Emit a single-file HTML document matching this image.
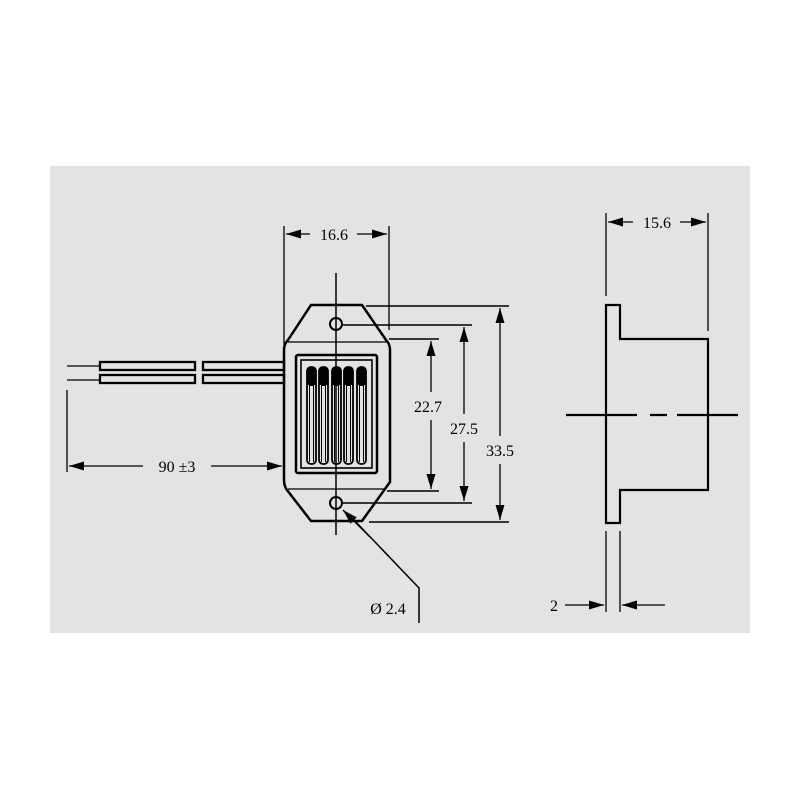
<!DOCTYPE html>
<html><head><meta charset="utf-8"><style>
html,body{margin:0;padding:0;background:#fff;}
svg{display:block;}
text{font-family:"Liberation Serif",serif;font-size:16px;fill:#000;}
</style></head><body>
<svg width="800" height="800" viewBox="0 0 800 800" xmlns="http://www.w3.org/2000/svg">
<defs>
<marker id="a" viewBox="0 0 10 6" refX="10" refY="3" markerWidth="20" markerHeight="9" markerUnits="userSpaceOnUse" orient="auto-start-reverse"><path d="M0,0 L10,3 L0,6 z" fill="#000"/></marker>
</defs>
<rect x="50" y="166" width="700" height="467" fill="#e3e3e3"/>
<g stroke="#000" fill="none">
<path d="M311,305 L362,305 L386,340 Q390,344 390,350 L390,482 L362,521 L311,521 L287,490 Q284,486 284,480 L284,350 Q284,344 288,340 Z" stroke-width="2.5"/>
<line x1="288" y1="342" x2="386" y2="342" stroke-width="1.3"/>
<line x1="288" y1="489" x2="386" y2="489" stroke-width="1.3"/>
<rect x="296" y="355" width="81" height="118" rx="2" stroke-width="2.5"/>
<rect x="301" y="360" width="71" height="108" stroke-width="1.6"/>
<g stroke-width="1.8">
<rect x="307" y="367" width="9" height="97" rx="4"/>
<rect x="319" y="367" width="9" height="97" rx="4"/>
<rect x="332" y="367" width="9" height="97" rx="4"/>
<rect x="344" y="367" width="9" height="97" rx="4"/>
<rect x="357" y="367" width="9" height="97" rx="4"/>
</g>
<g fill="#000" stroke="none">
<path d="M307,385 L307,371 Q307,367 311.5,367 Q316,367 316,371 L316,385 L314,385 L314,462 L309,462 L309,385 Z"/>
<path d="M319,385 L319,371 Q319,367 323.5,367 Q328,367 328,371 L328,385 L326,385 L326,462 L321,462 L321,385 Z"/>
<path d="M332,385 L332,371 Q332,367 336.5,367 Q341,367 341,371 L341,385 L339,385 L339,462 L334,462 L334,385 Z"/>
<path d="M344,385 L344,371 Q344,367 348.5,367 Q353,367 353,371 L353,385 L351,385 L351,462 L346,462 L346,385 Z"/>
<path d="M357,385 L357,371 Q357,367 361.5,367 Q366,367 366,371 L366,385 L364,385 L364,462 L359,462 L359,385 Z"/>
</g>
<g fill="#e3e3e3" stroke="none">
<rect x="310" y="386" width="3" height="76"/><rect x="322" y="386" width="3" height="76"/><rect x="335" y="386" width="3" height="76"/><rect x="347" y="386" width="3" height="76"/><rect x="360" y="386" width="3" height="76"/>
</g>
<circle cx="336" cy="324" r="6" stroke-width="2"/>
<circle cx="336" cy="503" r="6" stroke-width="2"/>
<line x1="336" y1="273" x2="336" y2="535" stroke-width="1.5"/>
<line x1="284" y1="226" x2="284" y2="345" stroke-width="1.3"/>
<line x1="389" y1="226" x2="389" y2="330" stroke-width="1.3"/>
<line x1="310" y1="234" x2="286" y2="234" stroke-width="1.3" marker-end="url(#a)"/>
<line x1="357" y1="234" x2="387" y2="234" stroke-width="1.3" marker-end="url(#a)"/>
<line x1="366" y1="306" x2="509" y2="306" stroke-width="1.4"/>
<line x1="343" y1="325" x2="472" y2="325" stroke-width="1.4"/>
<line x1="389" y1="339" x2="439" y2="339" stroke-width="1.4"/>
<line x1="387" y1="491" x2="439" y2="491" stroke-width="1.4"/>
<line x1="343" y1="503" x2="472" y2="503" stroke-width="1.4"/>
<line x1="369" y1="522" x2="509" y2="522" stroke-width="1.4"/>
<line x1="431" y1="392" x2="431" y2="341" stroke-width="1.3" marker-end="url(#a)"/>
<line x1="431" y1="420" x2="431" y2="489" stroke-width="1.3" marker-end="url(#a)"/>
<line x1="464" y1="414" x2="464" y2="327" stroke-width="1.3" marker-end="url(#a)"/>
<line x1="464" y1="442" x2="464" y2="501" stroke-width="1.3" marker-end="url(#a)"/>
<line x1="500" y1="436" x2="500" y2="308" stroke-width="1.3" marker-end="url(#a)"/>
<line x1="500" y1="464" x2="500" y2="520" stroke-width="1.3" marker-end="url(#a)"/>
<polyline points="419,623 419,588 354,520" stroke-width="1.5"/>
<line x1="370" y1="537" x2="343" y2="510" stroke-width="1.5" marker-end="url(#a)"/>
<line x1="67" y1="366" x2="100" y2="366" stroke-width="1.3"/>
<line x1="67" y1="380" x2="100" y2="380" stroke-width="1.3"/>
<g stroke-width="2.3">
<rect x="100" y="362" width="95" height="8"/>
<rect x="100" y="375" width="95" height="8"/>
<rect x="203" y="362" width="81" height="8"/>
<rect x="203" y="375" width="81" height="8"/>
</g>
<line x1="67" y1="390" x2="67" y2="472" stroke-width="1.3"/>
<line x1="143" y1="466" x2="69" y2="466" stroke-width="1.3" marker-end="url(#a)"/>
<line x1="211" y1="466" x2="282" y2="466" stroke-width="1.3" marker-end="url(#a)"/>
<path d="M606,305 L620,305 L620,339 L708,339 L708,490 L620,490 L620,523 L606,523 Z" stroke-width="2.2"/>
<line x1="566" y1="415" x2="637" y2="415" stroke-width="2.2"/>
<line x1="650" y1="415" x2="667" y2="415" stroke-width="2.2"/>
<line x1="677" y1="415" x2="738" y2="415" stroke-width="2.2"/>
<line x1="606" y1="213" x2="606" y2="296" stroke-width="1.3"/>
<line x1="708" y1="213" x2="708" y2="331" stroke-width="1.3"/>
<line x1="633" y1="222" x2="608" y2="222" stroke-width="1.3" marker-end="url(#a)"/>
<line x1="680" y1="222" x2="706" y2="222" stroke-width="1.3" marker-end="url(#a)"/>
<line x1="606" y1="531" x2="606" y2="612" stroke-width="1.3"/>
<line x1="620" y1="531" x2="620" y2="612" stroke-width="1.3"/>
<line x1="565" y1="605" x2="604" y2="605" stroke-width="1.3" marker-end="url(#a)"/>
<line x1="665" y1="605" x2="622" y2="605" stroke-width="1.3" marker-end="url(#a)"/>
</g>
<text x="334" y="240" text-anchor="middle">16.6</text>
<text x="428" y="412" text-anchor="middle">22.7</text>
<text x="464" y="434" text-anchor="middle">27.5</text>
<text x="500" y="456" text-anchor="middle">33.5</text>
<text x="177" y="472" text-anchor="middle">90 ±3</text>
<text x="388" y="614" text-anchor="middle">Ø 2.4</text>
<text x="657" y="228" text-anchor="middle">15.6</text>
<text x="554" y="611" text-anchor="middle">2</text>
</svg>
</body></html>
